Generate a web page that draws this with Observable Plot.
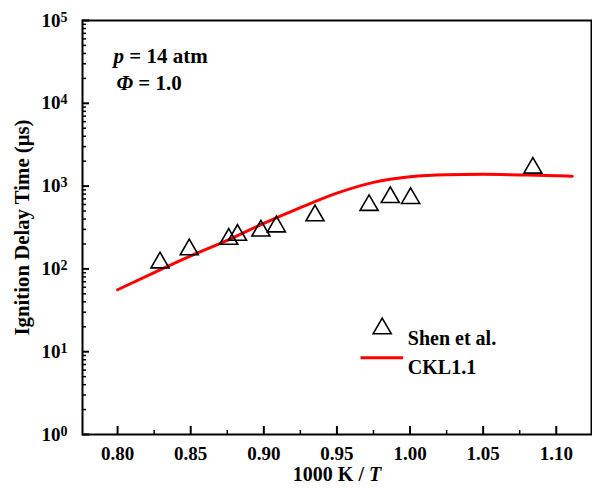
<!DOCTYPE html>
<html>
<head>
<meta charset="utf-8">
<script src="https://cdn.jsdelivr.net/npm/d3@7"></script>
<script src="https://cdn.jsdelivr.net/npm/@observablehq/plot@0.6"></script>
<style>
  body { margin: 0; background: #fff; }
  #chart svg { display: block; }
</style>
</head>
<body>
<div id="chart"></div>
<script>
// Experimental points (Shen et al.)
const expX = [0.829, 0.849, 0.876, 0.882, 0.898, 0.9086, 0.935, 0.972, 0.9865, 1.0004, 1.084];
const expY = [119, 171, 229, 256, 288, 324, 441, 588, 732, 713, 1656];

// Model curve (CKL1.1)
const modelX = [0.80, 0.825, 0.85, 0.875, 0.90, 0.925, 0.95, 0.975, 1.00, 1.025, 1.05, 1.075, 1.10, 1.111];
const modelY = [56, 90, 143.5, 221, 355, 550, 822, 1109, 1294, 1371, 1387, 1365, 1337, 1318];

// Ticks
const xMajorTicks = [0.80, 0.85, 0.90, 0.95, 1.00, 1.05, 1.10];
const xMinorTicks = [0.825, 0.875, 0.925, 0.975, 1.025, 1.075];
const yMajorTicks = [1, 10, 100, 1000, 10000, 100000];
const yMinorTicks = [1, 10, 100, 1000, 10000].flatMap(d => [2, 3, 4, 5, 6, 7, 8, 9].map(m => m * d));

// Texts
const legendLabels = ["Shen et al.", "CKL1.1"];
const noteLines = [
  [["p", true], [" = 14 atm", false]],
  [["Φ", true], [" = 1.0", false]]
];
const xTitleParts = [["1000 K / ", false], ["T", true]];
const yTitle = "Ignition Delay Time (μs)";

const W = 592, H = 488;
const mL = 82, mT = 20, mR = 1, mB = 54;
const frameW = W - mL - mR, frameH = H - mT - mB;
const font = "'Liberation Serif', 'Times New Roman', serif";
const joined = parts => parts.map(s => s[0]).join("");

const modelData = modelX.map((x, i) => ({x, y: modelY[i]}));
const expData = expX.map((x, i) => ({x, y: expY[i]}));

const legendLine = { draw(ctx) { ctx.moveTo(-21.3, 0); ctx.lineTo(21.3, 0); } };

const plot = Plot.plot({
  width: W,
  height: H,
  marginLeft: mL,
  marginTop: mT,
  marginRight: mR,
  marginBottom: mB,
  style: { fontFamily: font, fontWeight: "bold", background: "#fff", color: "#000" },
  x: { domain: [0.776, 1.1241], label: null },
  y: { type: "log", domain: [1, 1e5], label: null },
  marks: [
    // inward ticks
    Plot.ruleX(xMajorTicks, { x: d => d, insetTop: frameH - 8, stroke: "#000", strokeWidth: 2 }),
    Plot.ruleX(xMinorTicks, { x: d => d, insetTop: frameH - 4, stroke: "#000", strokeWidth: 1.5 }),
    Plot.ruleY(yMajorTicks, { y: d => d, insetRight: frameW - 7, stroke: "#000", strokeWidth: 2 }),
    Plot.ruleY(yMinorTicks, { y: d => d, insetRight: frameW - 4, stroke: "#000", strokeWidth: 1.5 }),
    Plot.axisX(xMajorTicks, { tickSize: 0, tickPadding: 12, tickFormat: d3.format(".2f"), fontSize: 19, fontWeight: "bold", fontFamily: font, label: null }),
    Plot.axisY(yMajorTicks, { tickSize: 0, tickPadding: 15, tickFormat: d => String(Math.round(Math.log10(d))), fontSize: 19, fontWeight: "bold", fontFamily: font, label: null }),
    Plot.frame({ stroke: "#000", strokeWidth: 2 }),
    // model line
    Plot.line(modelData, { x: "x", y: "y", stroke: "#ff0000", strokeWidth: 3, curve: "monotone-x" }),
    // experimental points
    Plot.dot(expData, { x: "x", y: "y", symbol: "triangle", r: 6.7, stroke: "#000", strokeWidth: 1.6, fill: "none" }),
    // annotation
    Plot.text([noteLines[0]], { frameAnchor: "top-left", text: joined, dx: 31, dy: 27.6, textAnchor: "start", fontSize: 21, fontWeight: "bold", fontFamily: font }),
    Plot.text([noteLines[1]], { frameAnchor: "top-left", text: joined, dx: 34, dy: 54.6, textAnchor: "start", fontSize: 21, fontWeight: "bold", fontFamily: font }),
    // legend
    Plot.dot([legendLabels[0]], { frameAnchor: "top-left", dx: 299.7, dy: 308, symbol: "triangle", r: 6.7, stroke: "#000", strokeWidth: 1.6, fill: "none" }),
    Plot.dot([legendLabels[1]], { frameAnchor: "top-left", dx: 299.3, dy: 337.3, symbol: legendLine, stroke: "#ff0000", strokeWidth: 3, fill: "none" }),
    Plot.text([legendLabels[0]], { frameAnchor: "top-left", text: d => d, dx: 325.3, dy: 310.3, textAnchor: "start", fontSize: 20, fontWeight: "bold", fontFamily: font }),
    Plot.text([legendLabels[1]], { frameAnchor: "top-left", text: d => d, dx: 325.3, dy: 339.6, textAnchor: "start", fontSize: 20, fontWeight: "bold", fontFamily: font }),
    // axis titles
    Plot.text([xTitleParts], { frameAnchor: "bottom", text: joined, dy: 46, textAnchor: "middle", fontSize: 20, fontWeight: "bold", fontFamily: font }),
    Plot.text([yTitle], { frameAnchor: "left", text: d => d, dx: -60, rotate: -90, textAnchor: "middle", fontSize: 20.8, fontWeight: "bold", fontFamily: font })
  ]
});

document.getElementById("chart").appendChild(plot);

const svgNS = "http://www.w3.org/2000/svg";
function setRich(el, parts) {
  el.textContent = "";
  parts.forEach(([s, it]) => {
    const t = document.createElementNS(svgNS, "tspan");
    t.textContent = s;
    if (it) t.setAttribute("font-style", "italic");
    el.appendChild(t);
  });
}
const richTexts = [noteLines[0], noteLines[1], xTitleParts];
plot.querySelectorAll("text").forEach(el => {
  const parts = richTexts.find(p => joined(p) === el.textContent);
  if (parts) setRich(el, parts);
});

// Superscript exponents on y tick labels
plot.querySelectorAll('g[aria-label="y-axis tick label"] text').forEach(el => {
  const exp = el.textContent;
  el.textContent = "10";
  const t = document.createElementNS(svgNS, "tspan");
  t.textContent = exp;
  t.setAttribute("font-size", "14");
  t.setAttribute("dy", "-5");
  el.appendChild(t);
});
</script>
</body>
</html>
